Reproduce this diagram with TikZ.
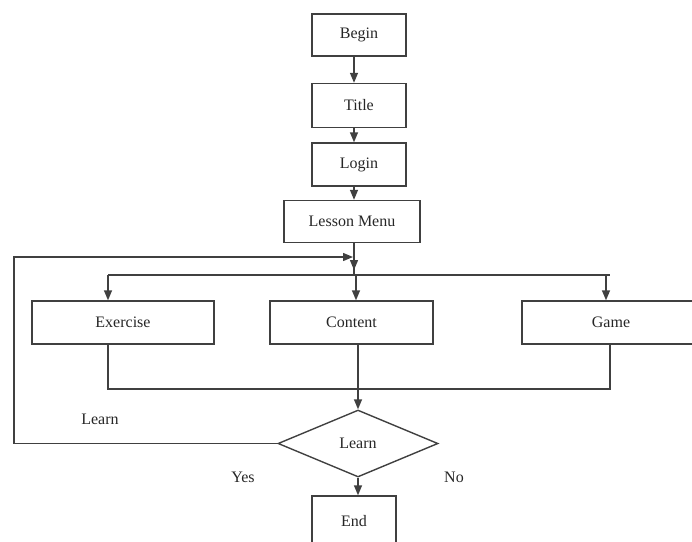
\documentclass[tikz,border=0pt]{standalone}
\usepackage{fontspec}
\setmainfont{Liberation Serif}
\usetikzlibrary{shapes.geometric,arrows.meta}
\begin{document}
\begin{tikzpicture}[x=1pt,y=-1pt,
  line width=1.4pt,
  every node/.style={text=black!85,font=\fontsize{16}{19}\selectfont},
  box/.style={draw=black!75,rectangle,inner sep=0pt},
  dec/.style={draw=black!75,diamond,aspect=2.4,inner sep=0pt,minimum width=160pt,minimum height=67pt},
  lbl/.style={inner sep=0pt},
  link/.style={draw=black!75},
  arr/.style={draw=black!75,-{Triangle[length=10pt,width=8pt]}}]
\useasboundingbox (0,0) rectangle (692,541);
\clip (0,0) rectangle (692,541);
% nodes
\node[box,minimum width=94pt,minimum height=42pt] (begin) at (359,35) {Begin};
\node[box,minimum width=94pt,minimum height=44pt] (title) at (359,105.5) {Title};
\node[box,minimum width=94pt,minimum height=43pt] (login) at (359,164.5) {Login};
\node[box,minimum width=136pt,minimum height=42pt] (menu) at (352,221.5) {Lesson Menu};
\node[box,minimum width=182pt,minimum height=43pt] (exercise) at (123,322.5) {Exercise};
\node[box,minimum width=163pt,minimum height=43pt] (content) at (351.5,322.5) {Content};
\node[box,minimum width=178pt,minimum height=43pt] (game) at (611,322.5) {Game};
\node[dec] (dia) at (358,443.5) {Learn};
\node[box,minimum width=84pt,minimum height=50pt] (end) at (354,521) {End};
\node[lbl] (llearn) at (100,419) {Learn};
\node[lbl] (lyes) at (243,477) {Yes};
\node[lbl] (lno) at (454,477) {No};
% helper coordinates
\coordinate (c1) at (354,0);
\coordinate (hub) at (354,275);
\coordinate (tip) at (354,270);
\coordinate (bl) at (108,275);
\coordinate (br) at (610,275);
\coordinate (cx) at (356,275);
\coordinate (gx) at (606,275);
\coordinate (ml) at (108,389);
\coordinate (mr) at (610,389);
\coordinate (loopbl) at (14,443.5);
\coordinate (looptl) at (14,257);
\coordinate (loopend) at (353,257);
% connectors
\draw[arr] (begin.south -| c1) -- (title.north -| c1);
\draw[arr] (title.south -| c1) -- (login.north -| c1);
\draw[arr] (login.south -| c1) -- (menu.north -| c1);
\draw[link] (menu.south -| c1) -- (hub);
\draw[arr] (menu.south -| c1) -- (tip);
\draw[link] (bl) -- (br);
\draw[arr] (bl) -- (exercise.north -| bl);
\draw[arr] (cx) -- (content.north -| cx);
\draw[arr] (gx) -- (game.north -| gx);
\draw[link] (exercise.south -| ml) -- (ml) -- (mr) -- (game.south -| mr);
\draw[arr] (content.south -| dia.north) -- (dia.north);
\draw[arr] (dia.south) -- (end.north -| dia.south);
\draw[arr] (dia.west) -- (loopbl) -- (looptl) -- (loopend);
\end{tikzpicture}
\end{document}
